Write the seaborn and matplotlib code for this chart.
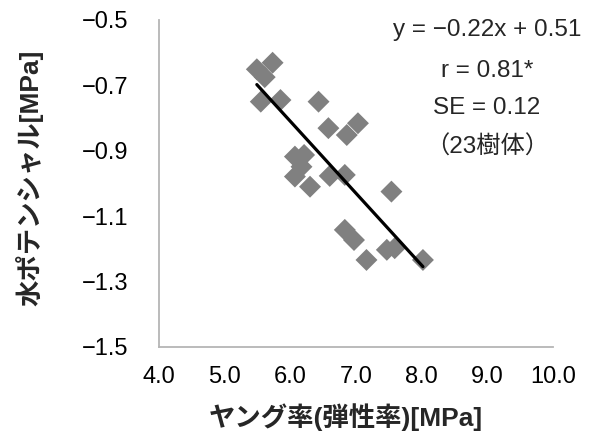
import matplotlib
matplotlib.use("Agg")
import matplotlib.pyplot as plt
import seaborn as sns
import numpy as np
import pandas as pd

# Data
young = [5.49, 5.73, 5.61, 5.55, 5.85, 6.43, 6.58, 6.86, 7.03, 6.07, 6.21, 6.17,
         6.07, 6.30, 6.60, 6.83, 7.54, 6.83, 6.97, 7.16, 7.47, 7.59, 8.02]
water = [-0.651, -0.631, -0.675, -0.750, -0.745, -0.750, -0.831, -0.852, -0.816,
         -0.918, -0.913, -0.949, -0.979, -1.010, -0.977, -0.974, -1.025, -1.142,
         -1.173, -1.234, -1.203, -1.198, -1.234]
fit_slope = -0.22
fit_intercept = 0.51
x_ticks = [4.0, 5.0, 6.0, 7.0, 8.0, 9.0, 10.0]
y_ticks = [-1.5, -1.3, -1.1, -0.9, -0.7, -0.5]
annot_lines = ["y = −0.22x + 0.51", "r = 0.81*", "SE = 0.12", "（23樹体）"]

sns.set_theme(style="white")
plt.rcParams['font.family'] = ['Liberation Sans', 'Noto Sans CJK JP', 'DejaVu Sans']
plt.rcParams['axes.unicode_minus'] = True

df = pd.DataFrame({"x": young, "y": water})

fig = plt.figure(figsize=(5.92, 4.42), dpi=100)
ax = fig.add_axes([0.2686, 0.215, 0.934 - 0.2686, 0.955 - 0.215])

sns.scatterplot(data=df, x="x", y="y", marker="D", s=125, color="#808080",
                edgecolor="none", ax=ax, zorder=2)

xl = np.array([min(young), max(young)])
ax.plot(xl, fit_slope * xl + fit_intercept, color="black", lw=2.3, zorder=3)

ax.set_xlim(4.0, 10.0)
ax.set_ylim(-1.5, -0.5)
ax.set_xticks(x_ticks)
ax.set_yticks(y_ticks)
ax.set_xticklabels([f"{v:.1f}" for v in x_ticks])
ax.set_yticklabels([f"{v:.1f}".replace("-", "−") for v in y_ticks])

for s in ["top", "right"]:
    ax.spines[s].set_visible(False)
for s in ["left", "bottom"]:
    ax.spines[s].set_color("#b5b5b5")
    ax.spines[s].set_linewidth(1.3)

ax.tick_params(axis="both", direction="in", length=5, width=1.2, color="#b5b5b5",
               labelsize=17, labelcolor="black")
ax.tick_params(axis="y", pad=22)
ax.tick_params(axis="x", pad=14)

ax.set_xlabel("ヤング率(弾性率)[MPa]", fontsize=19, fontweight="bold", va="center")
ax.set_ylabel("水ポテンシャル[MPa]", fontsize=19, fontweight="bold", va="center")
ax.xaxis.set_label_coords(0.475, -0.214)
ax.yaxis.set_label_coords(-0.33, 0.518)

ys = [30, 71, 108, 147]
for txt, yp in zip(annot_lines, ys):
    fig.text(487 / 592, 1 - yp / 442, txt, ha="center", va="center", fontsize=17.5)

fig.savefig("out.png", dpi=100)
